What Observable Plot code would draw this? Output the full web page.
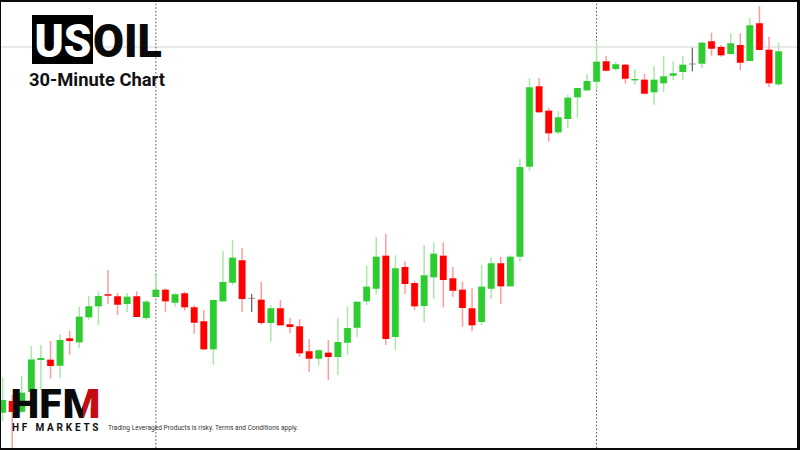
<!DOCTYPE html>
<html>
<head>
<meta charset="utf-8">
<script src="https://cdn.jsdelivr.net/npm/d3@7"></script>
<script src="https://cdn.jsdelivr.net/npm/@observablehq/plot@0.6"></script>
<style>
html,body{margin:0;padding:0;background:#fff}
#stage{position:relative;width:800px;height:450px;overflow:hidden;background:#fff}
#stage > svg{display:block;filter:blur(0.3px)}
.frame{position:absolute;inset:0;box-sizing:border-box;border-style:solid;border-color:#0a0a0a;border-width:2px 3px 2px 1.5px;pointer-events:none}
.t{position:absolute;font-family:Roboto,sans-serif;white-space:nowrap;line-height:1}
</style>
</head>
<body>
<div id="stage"></div>
<script>
const open  = [37.3,49,38.3,58,90,90.3,84.3,111.7,107.7,132.7,143.7,155.7,153.7,146,153.7,132,153,160.3,147.3,156.7,142.7,128.7,100.7,148.7,167.3,189.7,152.2,150.3,127,141.7,125.7,123.7,98.7,91.3,97.3,93,107.3,122.3,148.7,161.3,194.3,113,183,167,144,172.7,194.3,171.7,160.3,141.7,128,161.3,186.7,163.7,193.3,283.3,363.7,339.3,317.7,331,352.7,359.7,368.3,388.7,381,385.3,369.7,370.3,357.7,366.7,374.3,378,386.4,386.3,408.7,403,396,405,389,426.7,400.3,365.7];
const close = [50,38,57.3,90.5,92,84,110,109,133.3,143.7,154,154.3,145.3,153.3,133,148.3,160.3,148.7,155.7,142.7,127.3,100.7,150,168,192.3,151,151.4,127,141.7,124.7,123,96.7,91.3,99.7,93,108,122,148.3,163.3,193.3,111,181.7,166,143.7,174.7,196.3,170,159.3,142,124.7,163.3,186.7,163.7,193.3,283,362.7,337.7,316.7,332.7,352.3,362,369,388.3,379.3,385.7,371.3,371,356.3,370.3,373.7,376.7,385.3,385.6,407.3,401.3,394.7,406.7,387.3,424.7,400,366.7,398.7];
const high  = [72.7,55,74,104,105.3,109,115.7,119.3,143,154,158.7,180,157,157,158.7,150,175,161.7,156.7,158.3,144.7,140,150,198.7,210,201.7,156,168.3,145,150,132.3,130.7,110.7,100.7,110,132.3,143.7,148.3,184,213,216,194.7,188.7,169,204.7,207.7,207.7,183,168.3,161.7,185,192.7,193.3,194.7,291.3,372,372,342.3,339,355.3,362,375.7,407.7,394,388.3,386,380.7,376,383.7,394,388.7,394,402.3,408,417.3,405,416.7,416.7,432,444,413.3,407];
const low   = [29,0,37,55,60,71.3,72,95.3,101.7,130,125,146,135,138,133,130,152.3,138.3,143.3,139.3,116.3,100,85.3,148.3,165,138.3,138,125.3,108.3,124.7,116.7,93.3,78,84.7,69.7,75,95,113.3,145,156,105,100,156,140,127.7,151.3,142.7,153.3,123.3,118.7,125,151.3,146,163.7,188.3,279,337.7,308.3,315.7,322,332.3,358.7,360,378.7,379,366.3,365.3,356.3,345.3,358,370,370.3,378.7,381.7,394.3,393.3,395.3,380,389,400,363,364.3];
const sessionBreaks = [16, 62];
const priceLevel = [403.5];

const candles = open.map((o, i) => ({
  i, open: o, close: close[i], high: high[i], low: low[i],
  kind: Math.abs(close[i] - o) < 1 ? "doji" : close[i] > o ? "up" : "down"
}));
const byKind = k => candles.filter(d => d.kind === k);

const chart = Plot.plot({
  width: 800, height: 450,
  margin: 0,
  x: {domain: [0, 81], range: [2.1, 778.1], axis: null},
  y: {domain: [0, 450], range: [450, 0], axis: null},
  style: {background: "#fff"},
  marks: [
    Plot.ruleY(priceLevel, {stroke: "#e2e2e2", strokeWidth: 1.6}),
    Plot.ruleX(sessionBreaks, {stroke: "#555", strokeWidth: 1, strokeDasharray: "1.6,2"}),
    Plot.ruleX(byKind("up"),   {x: "i", y1: "low", y2: "high", stroke: "#a8e8a8", strokeWidth: 1.5}),
    Plot.ruleX(byKind("down"), {x: "i", y1: "low", y2: "high", stroke: "#ff9c9c", strokeWidth: 1.5}),
    Plot.ruleX(byKind("doji"), {x: "i", y1: "low", y2: "high", stroke: "#666", strokeWidth: 1.3}),
    Plot.ruleX(byKind("up"),   {x: "i", y1: "open", y2: "close", stroke: "#bdeebd", strokeWidth: 7.6}),
    Plot.ruleX(byKind("down"), {x: "i", y1: "open", y2: "close", stroke: "#ffb5b5", strokeWidth: 7.6}),
    Plot.ruleX(byKind("doji"), {x: "i", y1: "open", y2: "close", stroke: "#777", strokeWidth: 7}),
    Plot.ruleX(byKind("up"),   {x: "i", y1: "open", y2: "close", stroke: "#2ecc30", strokeWidth: 6.6}),
    Plot.ruleX(byKind("down"), {x: "i", y1: "open", y2: "close", stroke: "#ff0000", strokeWidth: 6.6})
  ]
});
const stage = document.getElementById("stage");
stage.appendChild(chart);

const overlay = document.createElement("div");
overlay.innerHTML = `
<div style="position:absolute;left:32px;top:15px;width:61px;height:49px;background:#000"></div>
<svg style="position:absolute;left:0;top:0;overflow:visible" width="200" height="100" font-family="Roboto" font-weight="900" font-size="47">
  <text x="34.5" y="57" textLength="57" lengthAdjust="spacingAndGlyphs" fill="#fff">US</text>
  <text x="93" y="57" textLength="69" lengthAdjust="spacingAndGlyphs" fill="#0a0a0a">OIL</text>
  <text x="29" y="85.5" textLength="136" lengthAdjust="spacingAndGlyphs" font-size="18.3" font-weight="700" fill="#111">30-Minute Chart</text>
</svg>
<svg style="position:absolute;left:0;top:380px;overflow:visible" width="110" height="60">
  <defs><linearGradient id="mfill" x1="0" x2="1" y1="0" y2="0">
    <stop offset="0.53" stop-color="#0a0a0a"/><stop offset="0.53" stop-color="#c40d12"/>
  </linearGradient></defs>
  <text x="10.5" y="37.5" textLength="51" lengthAdjust="spacingAndGlyphs" font-family="Roboto" font-weight="900" font-size="40" fill="#0a0a0a">HF</text>
  <text x="62.5" y="37.5" textLength="38" lengthAdjust="spacingAndGlyphs" font-family="Roboto" font-weight="900" font-size="40" fill="url(#mfill)">M</text>
  <text x="12" y="51" textLength="86.5" font-family="Roboto" font-weight="700" font-size="10" fill="#111">HF MARKETS</text>
</svg>
<div class="t" style="left:108px;top:424.5px;font-size:6.6px;color:#333">Trading Leveraged Products is risky. Terms and Conditions apply.</div>
<div class="frame"></div>`;
stage.appendChild(overlay);
</script>
</body>
</html>
